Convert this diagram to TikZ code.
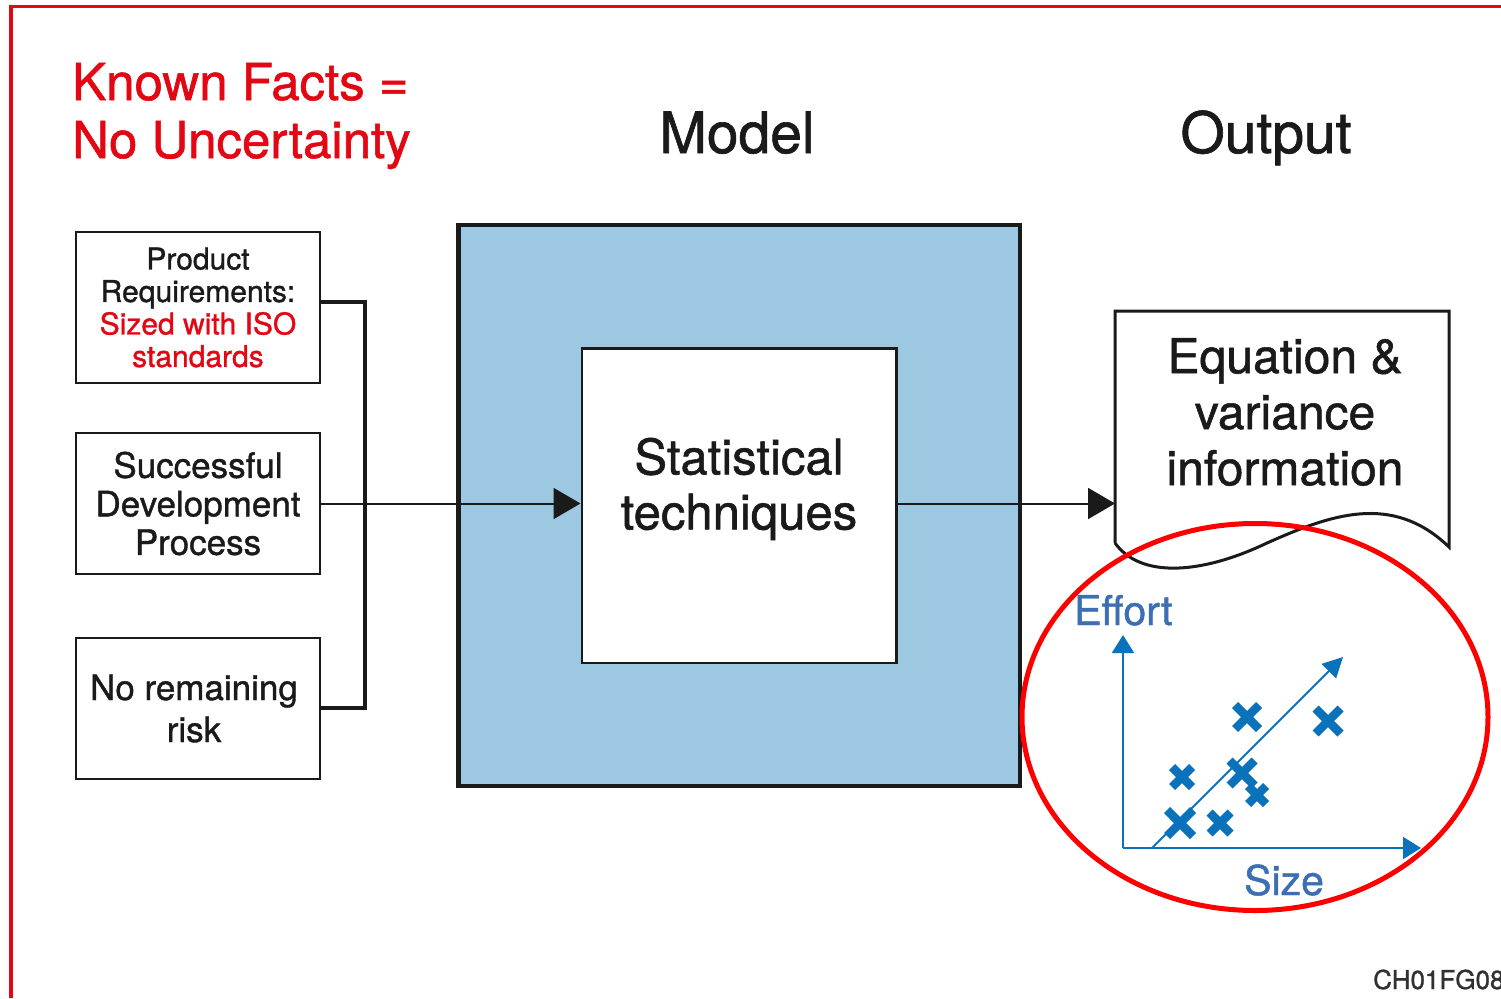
\documentclass[tikz,border=0pt]{standalone}
\usepackage{fontspec}
\setmainfont{TeX Gyre Heros}[FakeBold=1.1]
\usetikzlibrary{arrows.meta}
\definecolor{framered}{RGB}{227,6,19}
\definecolor{ellred}{RGB}{255,0,0}
\definecolor{ink}{RGB}{26,26,26}
\definecolor{modelblue}{RGB}{157,200,226}
\definecolor{chartblue}{RGB}{10,114,186}
\definecolor{labelblue}{RGB}{60,110,180}
\newcommand{\fs}[2]{\fontsize{#1}{#2}\selectfont}
\tikzset{
  inbox/.style={draw=ink, line width=2.5pt, minimum width=244pt, inner sep=0pt, align=center, text=ink},
  wire/.style={draw=ink, line width=2pt},
  bracket/.style={draw=ink, line width=4pt},
  flow/.style={draw=ink, line width=2pt, -{Triangle[length=27pt,width=31pt]}},
  axis/.style={draw=chartblue, line width=2pt, -{Triangle[length=18pt,width=22pt]}},
  xmark/.style={draw=chartblue, line width=8.5pt, line cap=butt},
}
\begin{document}
\begin{tikzpicture}[x=1pt,y=-1pt]
\useasboundingbox (0,0) rectangle (1501,998);
\fill[white] (0,0) rectangle (1501,998);
% frame
\draw[framered, line width=3.5pt] (11,998) -- (11,6.5) -- (1501,6.5);

% headings
\node[anchor=base west, text=framered, align=left, font=\fs{51}{58}, inner sep=0pt] (known) at (72,158) {Known Facts =\\No Uncertainty};
\node[anchor=base, text=ink, font=\fs{57}{60}, inner sep=0pt] (model) at (737,153) {Model};
\node[anchor=base, text=ink, font=\fs{57}{60}, inner sep=0pt] (output) at (1266,153) {Output};

% input boxes
\node[inbox, minimum height=151pt, font=\fs{30}{32.5}] (req) at (198,307.5)
  {Product\\Requirements:\\\textcolor{framered}{Sized with ISO}\\\textcolor{framered}{standards}};
\node[inbox, minimum height=141pt, font=\fs{35}{38.5}] (proc) at (198,503.5)
  {Successful\\Development\\Process};
\node[inbox, minimum height=141pt, font=\fs{35}{42}] (risk) at (198,708.5)
  {\hspace*{-8pt}No remaining\\\hspace*{-8pt}risk};

% model
\node[draw=ink, fill=modelblue, line width=4.5pt, minimum width=561.5pt, minimum height=561pt, inner sep=0pt] (modelbox) at (739,505.5) {};
\node[draw=ink, fill=white, line width=2.5pt, minimum width=314.5pt, minimum height=314.5pt, inner sep=0pt] (stat) at (739,505.5) {};
\node[text=ink, align=center, font=\fs{49}{55}, inner sep=0pt] (stattext) at (739,489) {Statistical\\techniques};

% bracket connectors
\coordinate (bx) at (365,0);
\draw[bracket] (req.east |- 0,302) -- (bx |- 0,302) -- (bx |- 0,708) -- (risk.east |- 0,708);
\draw[flow] (proc.east |- 0,503.5) -- (stat.west |- 0,503.5);

% output shape
\coordinate (o1) at (1115,543);
\coordinate (o2) at (1115,311);
\coordinate (o3) at (1449,311);
\coordinate (o4) at (1449,547);
\draw[ink, line width=3pt, line join=miter]
  (o1) -- (o2) -- (o3) -- (o4)
  .. controls (1392,492) and (1330,515) .. (1267,543)
  .. controls (1200,575) and (1140,578) .. (o1);
\node[text=ink, align=center, font=\fs{48}{56}, inner sep=0pt] (eqtext) at (1285,412) {Equation \&\\variance\\information};
\draw[flow] (stat.east |- 0,503.5) -- (o2 |- 0,503.5);

% chart
\coordinate (origin) at (1123,848);
\coordinate (ytip) at (1123,635);
\coordinate (xtip) at (1421,848);
\coordinate (rstart) at (1152,848);
\coordinate (rtip) at (1343,657);
\draw[axis] (origin) -- (ytip);
\draw[axis] (origin) -- (xtip);
\draw[draw=chartblue, line width=2pt, -{Triangle[length=20pt,width=20pt]}] (rstart) -- (rtip);
\foreach \px/\py/\s in {1247/717/12, 1328/721/12.5, 1182/777/10, 1242/773/12.5, 1257/795/9, 1180/823/13, 1220/823/10.5}{
  \draw[xmark] (\px-\s,\py-\s) -- (\px+\s,\py+\s);
  \draw[xmark] (\px-\s,\py+\s) -- (\px+\s,\py-\s);
}
\node[anchor=base west, text=labelblue, font=\fs{41}{43}, inner sep=0pt] (effort) at (1074,625) {Effort};
\node[anchor=base west, text=labelblue, font=\fs{41}{43}, inner sep=0pt] (size) at (1244,895) {Size};

% ellipse
\draw[ellred, line width=5pt] (1255,717) ellipse [x radius=233, y radius=193.5];

% figure id
\node[anchor=base west, text=ink!90, font=\fs{26}{28}, inner sep=0pt] (figid) at (1373,989) {CH01FG08};
\end{tikzpicture}
\end{document}
